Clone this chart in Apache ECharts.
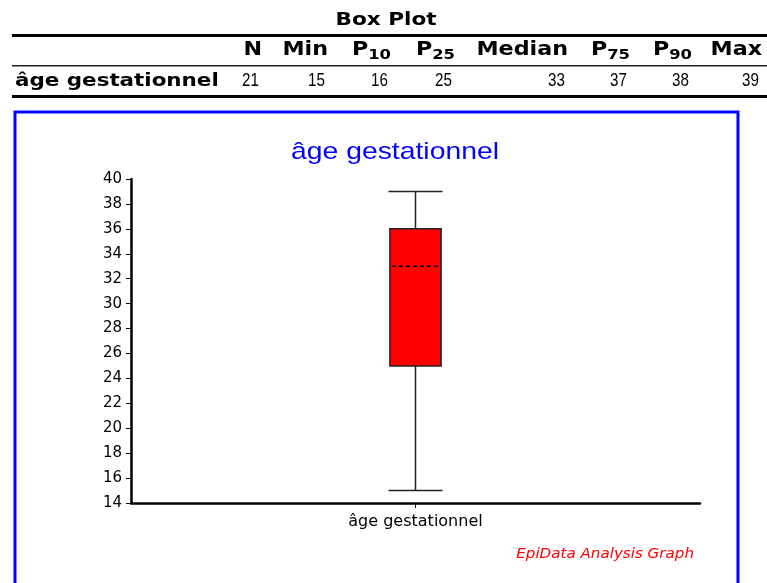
<!DOCTYPE html>
<html>
<head>
	<meta charset="utf-8">
	<title>Box Plot - âge gestationnel</title>
	<script src="https://cdn.jsdelivr.net/npm/echarts@6/dist/echarts.min.js"></script>
	<style type="text/css">
		html, body { margin: 0; padding: 0; background: #fff; }
		#main { width: 767px; height: 583px; }
	</style>
</head>
<body>
<div id="main"></div>
<script type="text/javascript">
	// summary table
	var tableTitle = 'Box Plot';
	var varName = 'âge gestationnel';
	var colHeads = ['N', 'Min', 'P{s|10}', 'P{s|25}', 'Median', 'P{s|75}', 'P{s|90}', 'Max'];
	var colValues = [21, 15, 16, 25, 33, 37, 38, 39];

	// box drawn in the graph: [category, min, q1, median, q3, max]
	var categories = ['âge gestationnel'];
	var boxValues = [[0, 15, 25, 33, 36, 39]];

	// y axis
	var yMin = 14, yMax = 40, yStep = 2;

	var colRight = [262, 328, 391, 455, 568, 630, 692, 762];

	var graphics = [];
	graphics.push({
		type: 'text', x: 386, y: 20, scaleX: 1.2,
		style: { text: tableTitle, font: 'bold 18px "DejaVu Sans"', fill: '#000', align: 'center', verticalAlign: 'middle' }
	});
	// table rules
	graphics.push({ type: 'rect', shape: { x: 12, y: 34, width: 755, height: 3 }, style: { fill: '#000' } });
	graphics.push({ type: 'rect', shape: { x: 12, y: 65, width: 755, height: 1.5 }, style: { fill: '#222' } });
	graphics.push({ type: 'rect', shape: { x: 12, y: 95, width: 755, height: 3 }, style: { fill: '#000' } });
	graphics.push({
		type: 'text', x: 15, y: 81, scaleX: 1.19,
		style: { text: varName, font: 'bold 18px "DejaVu Sans"', fill: '#000', verticalAlign: 'middle' }
	});
	for (var i = 0; i < colHeads.length; i++) {
		graphics.push({
			type: 'text', x: colRight[i], y: 50, scaleX: 1.17,
			style: {
				text: colHeads[i], font: 'bold 19px "DejaVu Sans"', fill: '#000',
				align: 'right', verticalAlign: 'middle',
				rich: { s: { font: 'bold 14px "DejaVu Sans"', padding: [11, 0, 0, 0] } }
			}
		});
		graphics.push({
			type: 'text', x: colRight[i] - 3, y: 81, scaleX: 0.8,
			style: {
				text: String(colValues[i]), font: '19px "Liberation Sans"',
				fill: '#000', align: 'right', verticalAlign: 'middle'
			}
		});
	}
	// blue frame
	graphics.push({
		type: 'rect', shape: { x: 15, y: 112, width: 723, height: 490 },
		style: { fill: 'none', stroke: '#0000ff', lineWidth: 3 }
	});
	graphics.push({
		type: 'text', x: 395, y: 152, scaleX: 1.18,
		style: { text: varName, font: '24px "Liberation Sans"', fill: '#0000ff', align: 'center', verticalAlign: 'middle' }
	});
	graphics.push({
		type: 'text', x: 694, y: 554, scaleX: 1.08,
		style: { text: 'EpiData Analysis Graph', font: 'italic 14px "DejaVu Sans"', fill: '#ff0000', align: 'right', verticalAlign: 'middle' }
	});

	var myChart = echarts.init(document.getElementById('main'));

	var option = {
		animation: false,
		grid: { left: 131, right: 67, top: 179, bottom: 80 },
		xAxis: {
			type: 'category',
			data: categories,
			axisLine: { lineStyle: { color: '#000', width: 2.5 } },
			axisTick: { show: true, alignWithLabel: true, length: 5, lineStyle: { color: '#000' } },
			axisLabel: { color: '#000', fontSize: 16, fontFamily: 'DejaVu Sans', margin: 11 },
			splitLine: { show: false }
		},
		yAxis: {
			type: 'value',
			min: yMin, max: yMax, interval: yStep,
			axisLine: { show: true, lineStyle: { color: '#000', width: 2.5 } },
			axisTick: { show: true, length: 5, lineStyle: { color: '#000' } },
			axisLabel: { color: '#000', fontSize: 15, fontFamily: 'DejaVu Sans', margin: 9 },
			splitLine: { show: false }
		},
		graphic: graphics,
		series: [{
			type: 'custom',
			data: boxValues,
			encode: { x: 0, y: [1, 2, 3, 4, 5] },
			renderItem: function (params, api) {
				var cat = api.value(0);
				var pMin = api.coord([cat, api.value(1)]);
				var pQ1 = api.coord([cat, api.value(2)]);
				var pMed = api.coord([cat, api.value(3)]);
				var pQ3 = api.coord([cat, api.value(4)]);
				var pMax = api.coord([cat, api.value(5)]);
				var band = api.size([1, 0])[0];
				var bw = band * 0.09;
				var cw = band * 0.095;
				var cx = pMin[0];
				var line = { stroke: '#222', lineWidth: 1.5 };
				return {
					type: 'group',
					children: [
						{ type: 'line', shape: { x1: cx, y1: pMax[1], x2: cx, y2: pQ3[1] }, style: line },
						{ type: 'line', shape: { x1: cx, y1: pQ1[1], x2: cx, y2: pMin[1] }, style: line },
						{ type: 'line', shape: { x1: cx - cw / 2, y1: pMax[1], x2: cx + cw / 2, y2: pMax[1] }, style: line },
						{ type: 'line', shape: { x1: cx - cw / 2, y1: pMin[1], x2: cx + cw / 2, y2: pMin[1] }, style: line },
						{ type: 'rect', shape: { x: cx - bw / 2, y: pQ3[1], width: bw, height: pQ1[1] - pQ3[1] },
							style: { fill: '#ff0000', stroke: '#222', lineWidth: 1.5 } },
						{ type: 'line', shape: { x1: cx - bw / 2 + 2, y1: pMed[1], x2: cx + bw / 2 - 2, y2: pMed[1] },
							style: { stroke: '#000', lineWidth: 1.5, lineDash: [4, 3] } }
					]
				};
			}
		}]
	};

	myChart.setOption(option);
</script>
</body>
</html>
